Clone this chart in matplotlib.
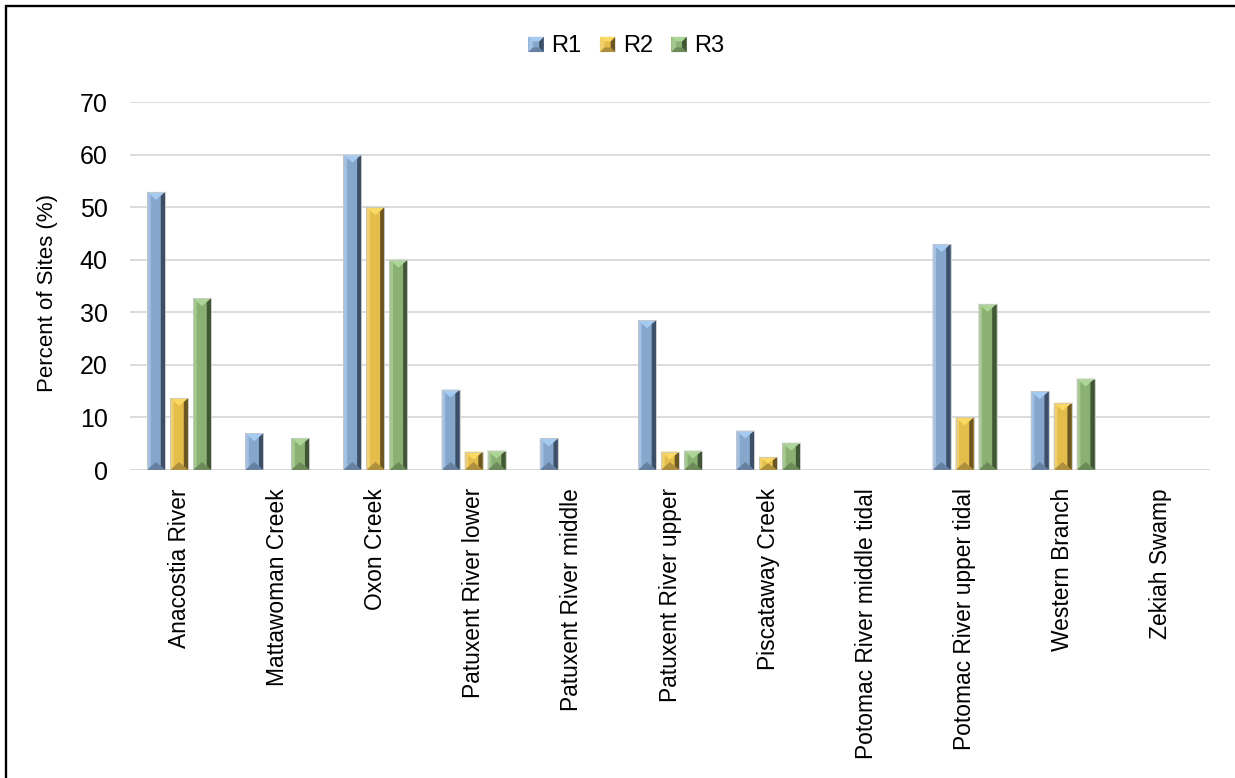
import numpy as np
import matplotlib
matplotlib.use("Agg")
import matplotlib.pyplot as plt
from matplotlib.patches import Polygon, Rectangle
from matplotlib.legend_handler import HandlerPatch

# percent of sites per watershed, rounds 1-3
watersheds = ["Anacostia River", "Mattawoman Creek", "Oxon Creek", "Patuxent River lower",
              "Patuxent River middle", "Patuxent River upper", "Piscataway Creek",
              "Potomac River middle tidal", "Potomac River upper tidal", "Western Branch",
              "Zekiah Swamp"]
r1 = [52.9, 7.0, 60.0, 15.3, 6.0, 28.5, 7.5, 0, 43.0, 15.0, 0]
r2 = [13.7, 0, 50.0, 3.5, 0, 3.5, 2.5, 0, 10.0, 12.8, 0]
r3 = [32.7, 6.1, 40.0, 3.7, 0, 3.7, 5.2, 0, 31.6, 17.4, 0]
series = ["R1", "R2", "R3"]

# main, top face, light side, dark side, bottom face
shades = {
    "R1": ("#86a6cc", "#a6cbf2", "#a3c0e2", "#3d4f66", "#6680a0"),
    "R2": ("#e4bd4a", "#fad962", "#f0d06c", "#6c5622", "#ad8f3e"),
    "R3": ("#8ab173", "#acd696", "#a5c88e", "#405635", "#6c8a5a"),
}

plt.rcParams['font.family'] = ['Liberation Sans', 'DejaVu Sans']

fig = plt.figure(figsize=(12.35, 7.78), dpi=100)
ax = fig.add_axes([130/1235, 1-470/778, 1080/1235, 368/778])
ax.set_xlim(-0.5, len(watersheds)-0.5)
ax.set_ylim(0, 70)

# size of one pixel in data units
px_y = 70 / 368


def bevel(ax, x0, w, h, cols, zorder=3):
    """draw the bevelled faces on top of a plain bar"""
    if h <= 0:
        return
    main, top, light, dark, bot = cols
    x1 = x0 + w
    xc = x0 + w/2
    d = min(8*px_y, h/2)
    sl = 0.2*w
    sr = 0.24*w
    k = d/(w/2)
    faces = [
        ([(x0, 0), (x0, h), (x0+sl, h-k*sl), (x0+sl, k*sl)], light),
        ([(x1, 0), (x1, h), (x1-sr, h-k*sr), (x1-sr, k*sr)], dark),
        ([(x0, h), (x1, h), (xc, h-d)], top),
        ([(x0, 0), (x1, 0), (xc, d)], bot),
    ]
    for pts, c in faces:
        ax.add_patch(Polygon(pts, closed=True, facecolor=c, edgecolor='none', zorder=zorder))
    ax.add_patch(Rectangle((x0, 0), w, h, facecolor='none', edgecolor='#c8c8c8',
                           lw=0.6, zorder=zorder+0.1))


x = np.arange(len(watersheds))
width = 18/98.2
step = 23/98.2
handles = []
for j, (name, vals) in enumerate(zip(series, [r1, r2, r3])):
    cols = shades[name]
    bars = ax.bar(x + (j-1)*step, vals, width, color=cols[0], label=name, zorder=2)
    for b in bars:
        bevel(ax, b.get_x(), b.get_width(), b.get_height(), cols)
    handles.append(bars.patches[0])


class BevelHandler(HandlerPatch):
    def __init__(self, cols, **kw):
        super().__init__(**kw)
        self.cols = cols

    def create_artists(self, legend, orig_handle, xdescent, ydescent, width, height, fontsize, trans):
        main, top, light, dark, bot = self.cols
        s = 11
        x0 = -xdescent + (width - s)/2
        y0 = -ydescent + (height - s)/2 - 0.5
        x1, y1 = x0 + s, y0 + s
        b = s*0.3
        arts = [Rectangle((x0, y0), s, s, facecolor=main, edgecolor='none', transform=trans)]
        faces = [
            ([(x0, y0), (x0, y1), (x0+b, y1-b), (x0+b, y0+b)], light),
            ([(x1, y0), (x1, y1), (x1-b, y1-b), (x1-b, y0+b)], dark),
            ([(x0, y1), (x1, y1), (x1-b, y1-b), (x0+b, y1-b)], top),
            ([(x0, y0), (x1, y0), (x1-b, y0+b), (x0+b, y0+b)], bot),
        ]
        for pts, c in faces:
            arts.append(Polygon(pts, closed=True, facecolor=c, edgecolor='none', transform=trans))
        return arts


leg = fig.legend(handles=handles, labels=series, ncol=3, loc='center',
                 bbox_to_anchor=(0.507, 1-46/778), frameon=False, fontsize=17,
                 handlelength=0.7, handleheight=0.7, handletextpad=0.3, columnspacing=0.75,
                 handler_map={h: BevelHandler(shades[n]) for h, n in zip(handles, series)})

ax.set_yticks(range(0, 71, 10))
ax.yaxis.grid(True, color='#d9d9d9', lw=1.3)
ax.set_axisbelow(True)
for s in ax.spines.values():
    s.set_visible(False)
ax.axhline(0, color='#d9d9d9', lw=1.3, zorder=1)
ax.tick_params(axis='y', length=0, pad=16, labelsize=18)
ax.tick_params(axis='x', length=0, pad=13)
ax.set_xticks(x)
ax.set_xticklabels(watersheds, rotation=90, fontsize=16.4)

ax.set_ylabel("Percent of Sites (%)", fontsize=16)
ax.yaxis.set_label_coords(-72/1080, 0.481)

# frame around the figure
fig.patches.append(Rectangle((6/1235, -0.1), 2, 1.1 - 6/778, transform=fig.transFigure,
                             facecolor='none', edgecolor='black', lw=1.7, figure=fig))

fig.savefig("out.png", dpi=100, facecolor='white')
